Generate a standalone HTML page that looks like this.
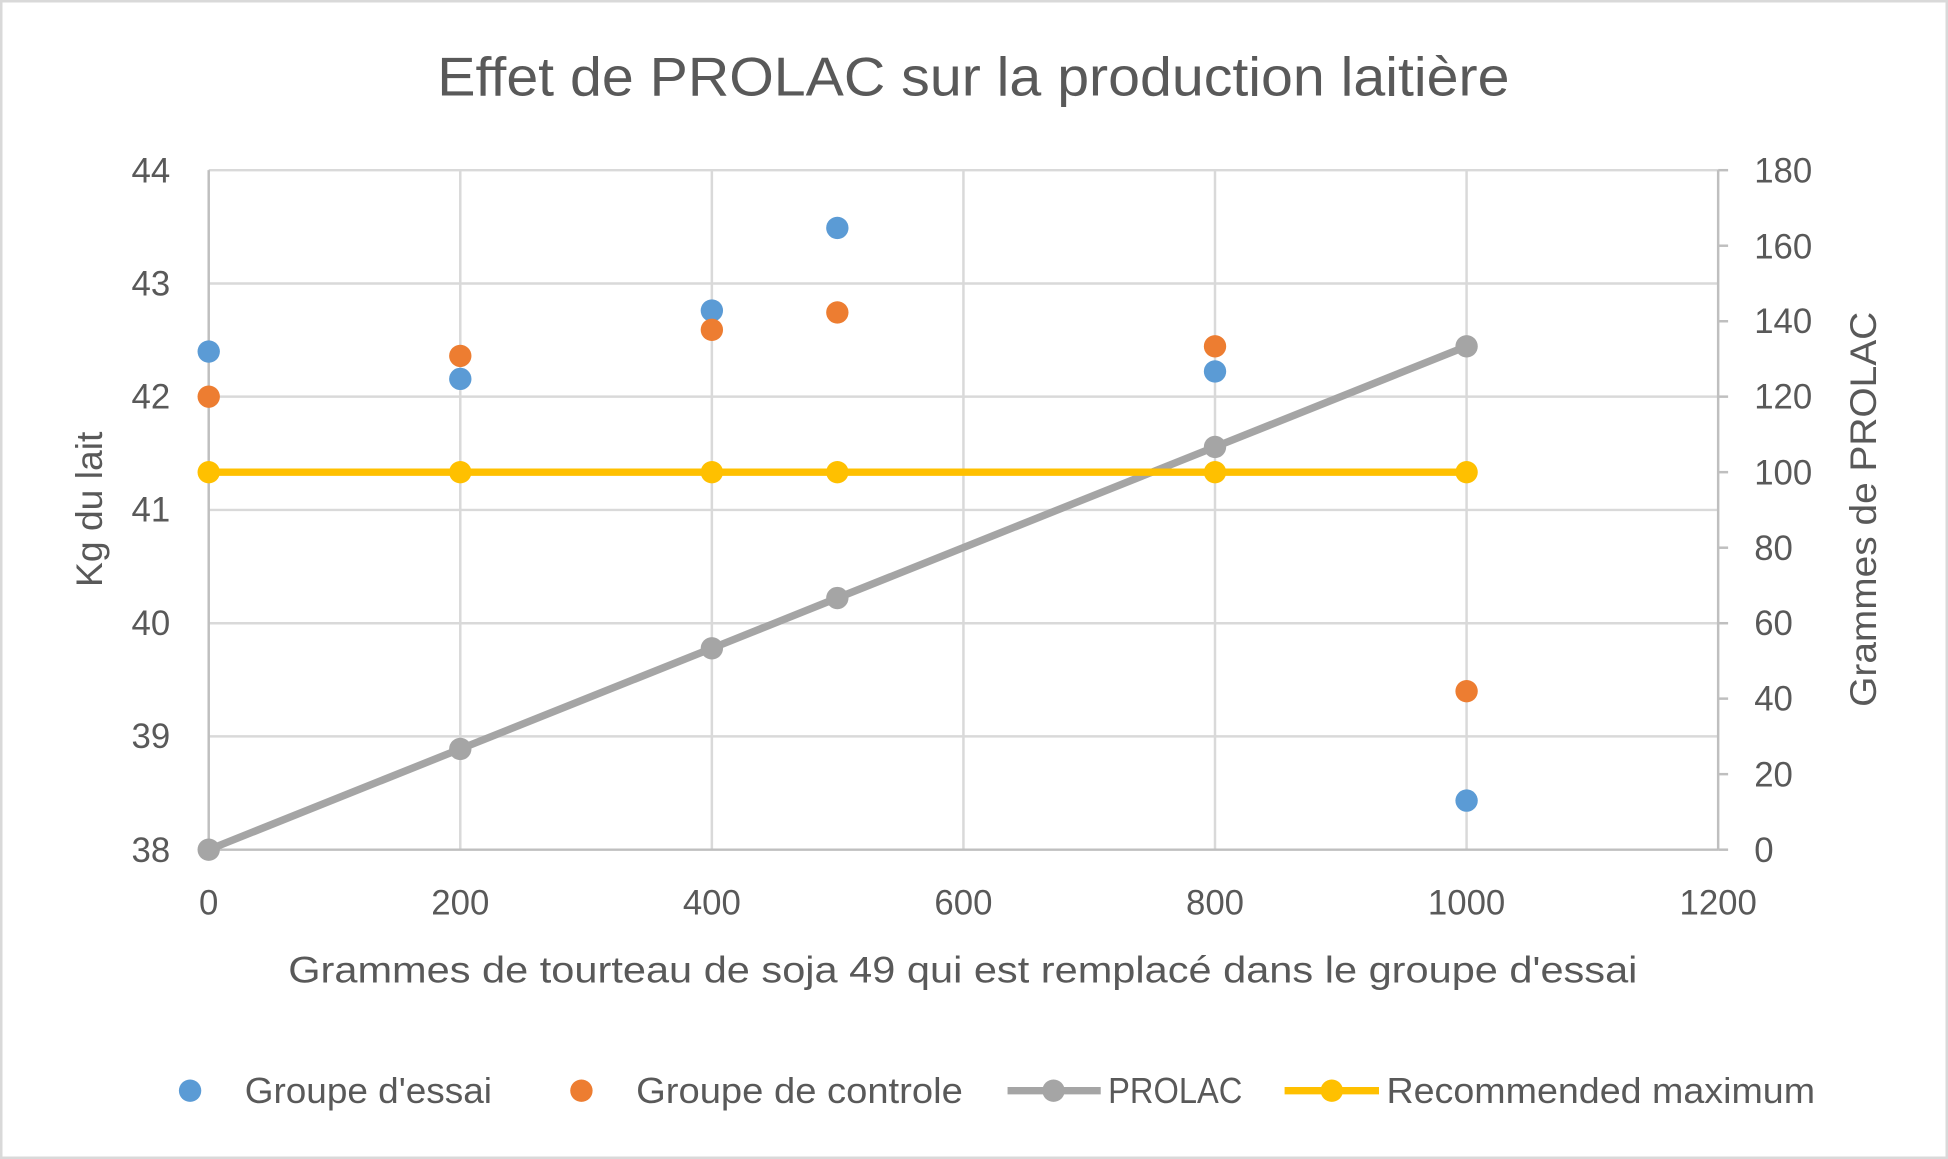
<!DOCTYPE html>
<html><head><meta charset="utf-8"><style>html,body{margin:0;padding:0;background:#fff}svg{display:block}</style></head>
<body>
<svg width="1948" height="1159" viewBox="0 0 1568 933" preserveAspectRatio="none" font-family="Liberation Sans, sans-serif" fill="#595959">
<rect x="1" y="1" width="1566" height="931" fill="#fff" stroke="#d9d9d9" stroke-width="2"/>
<text x="352" y="77" font-size="44" textLength="863" lengthAdjust="spacingAndGlyphs">Effet de PROLAC sur la production laitière</text>
<g stroke="#d9d9d9" stroke-width="2">
<line x1="168" y1="137" x2="1383" y2="137"/><line x1="168" y1="228.2" x2="1383" y2="228.2"/>
<line x1="168" y1="319.3" x2="1383" y2="319.3"/><line x1="168" y1="410.5" x2="1383" y2="410.5"/>
<line x1="168" y1="501.7" x2="1383" y2="501.7"/><line x1="168" y1="592.8" x2="1383" y2="592.8"/>
<line x1="370.5" y1="137" x2="370.5" y2="684"/><line x1="573" y1="137" x2="573" y2="684"/>
<line x1="775.5" y1="137" x2="775.5" y2="684"/><line x1="978" y1="137" x2="978" y2="684"/>
<line x1="1180.5" y1="137" x2="1180.5" y2="684"/>
</g>
<g stroke="#bfbfbf" stroke-width="2">
<line x1="168" y1="137" x2="168" y2="684"/><line x1="168" y1="684" x2="1383" y2="684"/>
<line x1="1383" y1="137" x2="1383" y2="684"/>
<line x1="1383" y1="137" x2="1391" y2="137"/><line x1="1383" y1="197.8" x2="1391" y2="197.8"/>
<line x1="1383" y1="258.6" x2="1391" y2="258.6"/><line x1="1383" y1="319.3" x2="1391" y2="319.3"/>
<line x1="1383" y1="380.1" x2="1391" y2="380.1"/><line x1="1383" y1="440.9" x2="1391" y2="440.9"/>
<line x1="1383" y1="501.7" x2="1391" y2="501.7"/><line x1="1383" y1="562.4" x2="1391" y2="562.4"/>
<line x1="1383" y1="623.2" x2="1391" y2="623.2"/><line x1="1383" y1="684" x2="1391" y2="684"/>
</g>
<g font-size="28" text-anchor="end">
<text x="137" y="147">44</text><text x="137" y="238">43</text><text x="137" y="329">42</text>
<text x="137" y="420">41</text><text x="137" y="511">40</text><text x="137" y="602">39</text><text x="137" y="694">38</text>
</g>
<g font-size="28" text-anchor="start">
<text x="1412" y="147">180</text><text x="1412" y="208">160</text><text x="1412" y="268">140</text>
<text x="1412" y="329">120</text><text x="1412" y="390">100</text><text x="1412" y="451">80</text>
<text x="1412" y="511">60</text><text x="1412" y="572">40</text><text x="1412" y="633">20</text><text x="1412" y="694">0</text>
</g>
<g font-size="28" text-anchor="middle">
<text x="168" y="736">0</text><text x="370.5" y="736">200</text><text x="573" y="736">400</text>
<text x="775.5" y="736">600</text><text x="978" y="736">800</text><text x="1180.5" y="736">1000</text><text x="1383" y="736">1200</text>
</g>
<text x="232" y="791" font-size="30" textLength="1086" lengthAdjust="spacingAndGlyphs">Grammes de tourteau de soja 49 qui est remplacé dans le groupe d'essai</text>
<text transform="translate(82,410) rotate(-90)" font-size="30" text-anchor="middle">Kg du lait</text>
<text transform="translate(1510,410) rotate(-90)" font-size="30" text-anchor="middle" textLength="318" lengthAdjust="spacingAndGlyphs">Grammes de PROLAC</text>
<polyline points="168,684 370.5,602.9 573,521.9 674,481.4 978,359.8 1180.5,278.8" fill="none" stroke="#a5a5a5" stroke-width="6"/>
<g fill="#a5a5a5"><circle cx="168" cy="684" r="9"/><circle cx="370.5" cy="602.9" r="9"/><circle cx="573" cy="521.9" r="9"/><circle cx="674" cy="481.4" r="9"/><circle cx="978" cy="359.8" r="9"/><circle cx="1180.5" cy="278.8" r="9"/></g>
<line x1="168" y1="380.1" x2="1180.5" y2="380.1" stroke="#ffc000" stroke-width="6"/>
<g fill="#ffc000"><circle cx="168" cy="380.1" r="9"/><circle cx="370.5" cy="380.1" r="9"/><circle cx="573" cy="380.1" r="9"/><circle cx="674" cy="380.1" r="9"/><circle cx="978" cy="380.1" r="9"/><circle cx="1180.5" cy="380.1" r="9"/></g>
<g fill="#5b9bd5"><circle cx="168" cy="283" r="9"/><circle cx="370.5" cy="305" r="9"/><circle cx="573" cy="250" r="9"/><circle cx="674" cy="183.5" r="9"/><circle cx="978" cy="299" r="9"/><circle cx="1180.5" cy="644.5" r="9"/></g>
<g fill="#ed7d31"><circle cx="168" cy="319.3" r="9"/><circle cx="370.5" cy="286.5" r="9"/><circle cx="573" cy="265.5" r="9"/><circle cx="674" cy="251.5" r="9"/><circle cx="978" cy="278.8" r="9"/><circle cx="1180.5" cy="556.4" r="9"/></g>
<g font-size="29">
<circle cx="153" cy="878" r="9" fill="#5b9bd5"/><text x="197" y="888" textLength="199" lengthAdjust="spacingAndGlyphs">Groupe d'essai</text>
<circle cx="468" cy="878" r="9" fill="#ed7d31"/><text x="512" y="888" textLength="263" lengthAdjust="spacingAndGlyphs">Groupe de controle</text>
<line x1="811" y1="878" x2="886" y2="878" stroke="#a5a5a5" stroke-width="6"/><circle cx="848" cy="878" r="9" fill="#a5a5a5"/><text x="892" y="888" textLength="108" lengthAdjust="spacingAndGlyphs">PROLAC</text>
<line x1="1034" y1="878" x2="1110" y2="878" stroke="#ffc000" stroke-width="6"/><circle cx="1072" cy="878" r="9" fill="#ffc000"/><text x="1116" y="888" textLength="345" lengthAdjust="spacingAndGlyphs">Recommended maximum</text>
</g>
</svg>
</body></html>
